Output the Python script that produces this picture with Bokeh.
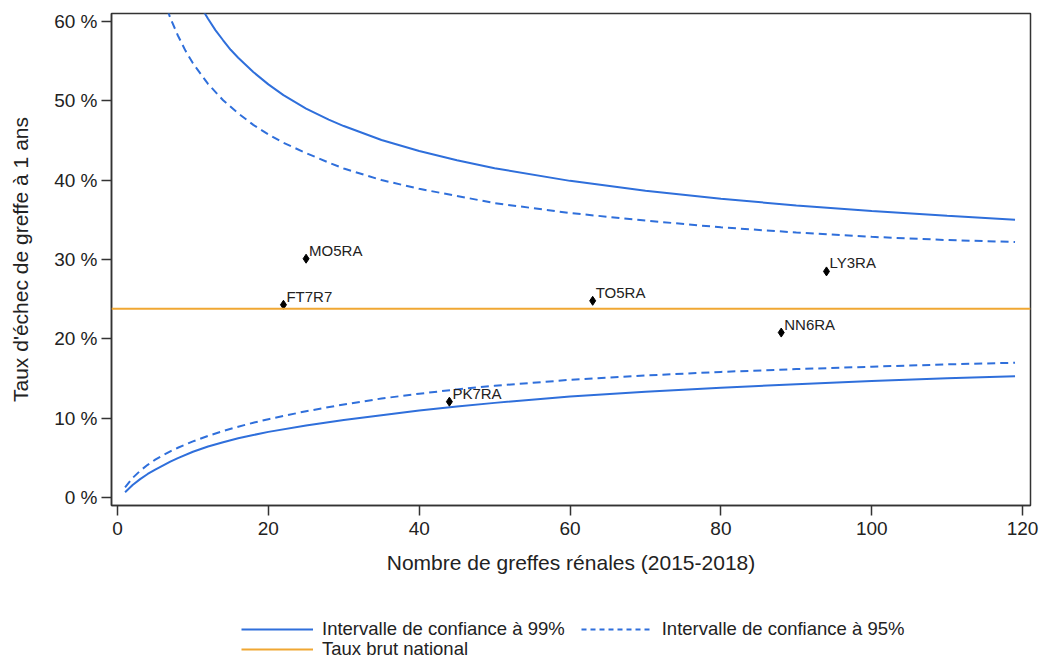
from bokeh.plotting import figure
from bokeh.layouts import column
from bokeh.models import (Range1d, FixedTicker, Legend, LegendItem, Span,
                          ColumnDataSource, LabelSet)
from bokeh.core.properties import value
from bokeh.embed import file_html
from bokeh.resources import INLINE

# ---- data ----
centres = ["MO5RA", "FT7R7", "TO5RA", "PK7RA", "NN6RA", "LY3RA"]
n_greffes = [25, 22, 63, 44, 88, 94]
taux_echec = [30.1, 24.3, 24.8, 12.1, 20.8, 28.5]
taux_national = 23.8

n_up99 = [9, 10, 11, 12, 13, 14, 15, 16, 18, 20, 22, 25, 28, 30, 35, 40, 45, 50, 60, 70,
          80, 90, 100, 110, 119]
up99 = [65.9, 63.75, 61.9, 60.3, 58.85, 57.6, 56.4, 55.4, 53.6, 52.05, 50.7, 49.0, 47.6,
        46.8, 45.05, 43.65, 42.5, 41.5, 39.9, 38.65, 37.65, 36.8, 36.1, 35.5, 35.0]

n_up95 = [4, 5, 6, 7, 8, 9, 10, 12, 14, 16, 18, 20, 22, 25, 28, 30, 35, 40, 45, 50, 60,
          70, 80, 90, 100, 110, 119]
up95 = [71.0, 66.5, 63.1, 60.4, 58.2, 56.3, 54.7, 52.1, 50.05, 48.4, 46.95, 45.75, 44.7,
        43.4, 42.2, 41.45, 40.0, 38.9, 38.0, 37.1, 35.85, 34.9, 34.05, 33.4, 32.85, 32.45,
        32.2]

n_low = [1, 2, 3, 4, 5, 6, 7, 8, 10, 12, 14, 16, 18, 20, 25, 30, 35, 40, 45, 50, 60, 70,
         80, 90, 100, 110, 119]
low99 = [0.7, 1.6, 2.35, 3.0, 3.55, 4.05, 4.55, 5.0, 5.8, 6.45, 7.0, 7.5, 7.9, 8.3, 9.1,
         9.8, 10.4, 11.0, 11.5, 11.95, 12.75, 13.35, 13.85, 14.3, 14.7, 15.05, 15.3]
low95 = [1.3, 2.5, 3.4, 4.15, 4.8, 5.35, 5.85, 6.3, 7.1, 7.8, 8.4, 8.95, 9.45, 9.9, 10.9,
         11.75, 12.5, 13.1, 13.65, 14.1, 14.85, 15.4, 15.85, 16.2, 16.5, 16.8, 17.0]

y_ticks = [0, 10, 20, 30, 40, 50, 60]
y_tick_labels = ["0 %", "10 %", "20 %", "30 %", "40 %", "50 %", "60 %"]
x_ticks = [0, 20, 40, 60, 80, 100, 120]

legend_labels = ["Intervalle de confiance à 99%", "Intervalle de confiance à 95%",
                 "Taux brut national"]

BLUE = "#2F6FDB"
ORANGE = "#F0A733"
FONT = "Liberation Sans"
DARK = "#222222"
DASH = "8 5"

p = figure(width=1039, height=590, output_backend="svg", toolbar_location=None,
           x_range=Range1d(-0.8, 121.05), y_range=Range1d(-0.97, 60.97),
           min_border_left=111, min_border_right=9, min_border_top=13,
           min_border_bottom=85)
p.background_fill_color = "white"
p.border_fill_color = "white"
p.grid.visible = False
p.outline_line_color = "#333333"
p.outline_line_width = 1.5

# axes
p.xaxis.ticker = FixedTicker(ticks=x_ticks)
p.yaxis.ticker = FixedTicker(ticks=y_ticks)
p.yaxis.major_label_overrides = {t: l for t, l in zip(y_ticks, y_tick_labels)}
for ax in (p.xaxis[0], p.yaxis[0]):
    ax.minor_tick_line_color = None
    ax.major_tick_in = 0
    ax.major_tick_out = 10
    ax.major_tick_line_color = "#333333"
    ax.major_tick_line_width = 1.5
    ax.axis_line_color = "#333333"
    ax.axis_line_width = 1.5
    ax.major_label_text_font = FONT
    ax.major_label_text_font_size = "19px"
    ax.major_label_text_color = DARK
    ax.axis_label_text_font = FONT
    ax.axis_label_text_font_size = "21px"
    ax.axis_label_text_font_style = "normal"
    ax.axis_label_text_color = DARK
p.xaxis.axis_label = "Nombre de greffes rénales (2015-2018)"
p.yaxis.axis_label = "Taux d'échec de greffe à 1 ans"
p.xaxis.major_label_standoff = 6
p.xaxis.axis_label_standoff = 13
p.yaxis.major_label_standoff = 4
p.yaxis.axis_label_standoff = 19

# national rate
p.add_layout(Span(location=taux_national, dimension="width", line_color=ORANGE, line_width=2))

# funnel limits
s99u = ColumnDataSource(dict(x=n_up99, y=up99))
s95u = ColumnDataSource(dict(x=n_up95, y=up95))
p.line("x", "y", source=s99u, line_color=BLUE, line_width=2)
p.line(n_low, low99, line_color=BLUE, line_width=2)
p.line("x", "y", source=s95u, line_color=BLUE, line_width=2, line_dash=DASH)
p.line(n_low, low95, line_color=BLUE, line_width=2, line_dash=DASH)

# centres
src = ColumnDataSource(dict(x=n_greffes, y=taux_echec, name=centres))
p.scatter("x", "y", source=src, marker="diamond", size=9, color="black")
p.add_layout(LabelSet(x="x", y="y", text="name", source=src, x_offset=3, y_offset=0,
                      text_baseline="bottom", text_align="left",
                      text_font=value(FONT), text_font_size="15px", text_color=DARK))

# ---- legend strip below the chart (its frame is aligned with the chart's) ----
lg = figure(width=1039, height=70, output_backend="svg", toolbar_location=None,
            x_range=Range1d(0, 1), y_range=Range1d(0, 1),
            min_border_left=111, min_border_right=9, min_border_top=0,
            min_border_bottom=0)
lg.axis.visible = False
lg.grid.visible = False
lg.outline_line_color = None
lg.background_fill_color = "white"
lg.border_fill_color = "white"
# legend renderers reuse the chart data; it lies outside this strip's (0,1) ranges
g99 = lg.line("x", "y", source=s99u, line_color=BLUE, line_width=2)
g95 = lg.line("x", "y", source=s95u, line_color=BLUE, line_width=2, line_dash="5 4")
gnat = lg.line("x", "y", source=s99u, line_color=ORANGE, line_width=2)


def style(leg):
    leg.padding = 0
    leg.margin = 0
    leg.border_line_alpha = 0
    leg.background_fill_alpha = 0
    leg.glyph_width = 72
    leg.glyph_height = 18
    leg.label_height = 18
    leg.label_standoff = 9
    leg.label_text_font = FONT
    leg.label_text_font_size = "18.5px"
    leg.label_text_color = DARK


leg1 = Legend(items=[LegendItem(label=legend_labels[0], renderers=[g99]),
                     LegendItem(label=legend_labels[1], renderers=[g95])],
              orientation="horizontal", location=(130, 20), spacing=16)
style(leg1)
leg2 = Legend(items=[LegendItem(label=legend_labels[2], renderers=[gnat])],
              orientation="horizontal", location=(130, 0))
style(leg2)
lg.add_layout(leg1, "center")
lg.add_layout(leg2, "center")

layout = column(p, lg, spacing=0)
open("out.html", "w").write(file_html(layout, INLINE))
